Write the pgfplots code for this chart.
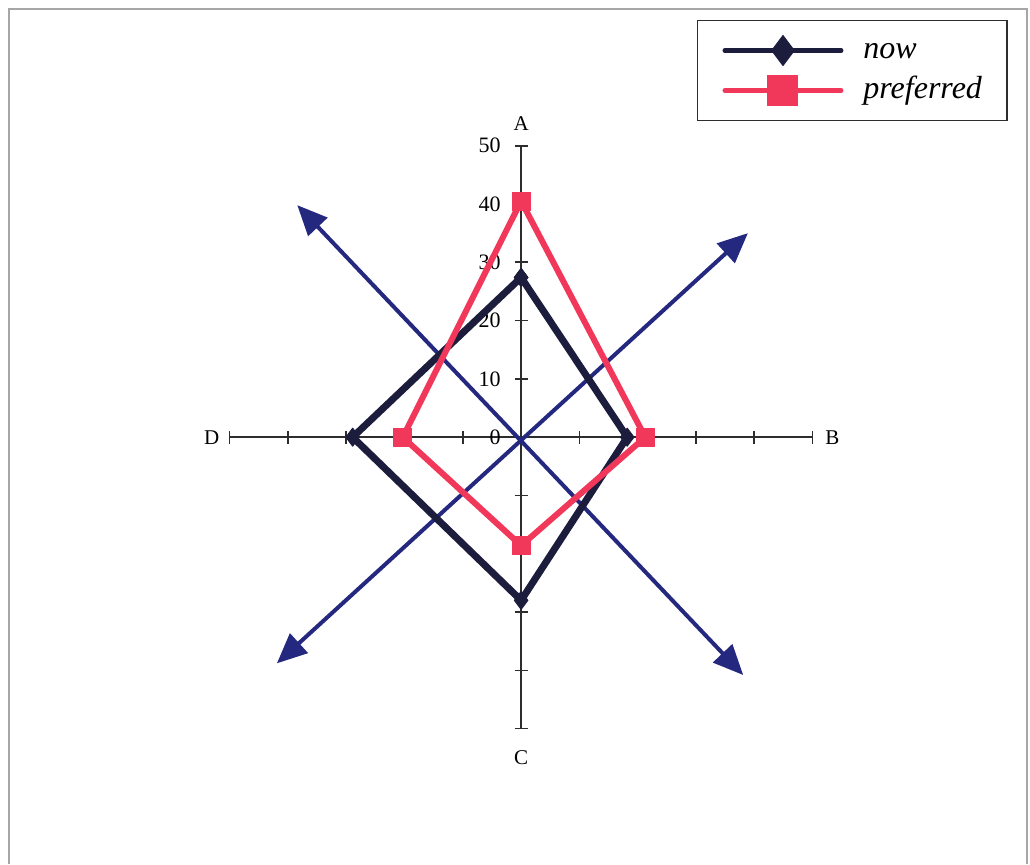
\documentclass[border=0pt]{standalone}
\usepackage{fontspec}
\setmainfont{Liberation Serif}
\usepackage{pgfplots}
\pgfplotsset{compat=1.18}
\usetikzlibrary{arrows.meta}
\definecolor{nowc}{RGB}{28,28,60}
\definecolor{prefc}{RGB}{242,56,90}
\definecolor{arrc}{RGB}{36,40,126}
\definecolor{axc}{RGB}{45,45,45}
\begin{document}
\begin{tikzpicture}
\begin{axis}[
  scale only axis, width=291.5pt, height=291.5pt,
  xmin=-50, xmax=50, ymin=-50, ymax=50,
  axis lines=center,
  axis line style={-, draw=axc, line width=0.8pt},
  clip=false,
  tick align=center,
  major tick length=6.5pt,
  tick style={draw=axc, line width=0.8pt},
  hide obscured x ticks=false,
  hide obscured y ticks=false,
  xtick={-50,-40,-30,-20,-10,10,20,30,40,50},
  xticklabels={},
  ytick={-50,-40,-30,-20,-10,0,10,20,30,40,50},
  yticklabels={,,,,,0,10,20,30,40,50},
  yticklabel style={font=\fontsize{11}{11}\selectfont, anchor=east, xshift=-3.5pt},
  legend style={at={(axis cs:56.8,62.9)}, anchor=center,
    draw=axc, line width=0.8pt,
    font=\fontsize{16}{18}\selectfont\itshape,
    inner xsep=12.5pt, inner ysep=7.5pt,
    row sep=5pt, column sep=10pt,
    nodes={inner sep=0pt, text height=11pt, text depth=3.5pt}},
  legend cell align=left,
  legend image code/.code={\draw[mark repeat=2,mark phase=2,#1,line width=2.5pt,mark size=7.5pt] plot coordinates {(0pt,0pt) (29pt,0pt) (58pt,0pt)};},
]
\path (axis cs:-89.4,-73.2) rectangle (axis cs:87.3,75.0);
\draw[gray!70, line width=1pt] (axis cs:-87.8,-73.2) -- (axis cs:-87.8,73.4) -- (axis cs:86.8,73.4) -- (axis cs:86.8,-73.2);

\addplot[forget plot, arrc, line width=2pt, mark=none,
  {Triangle[length=15pt,width=13pt]}-{Triangle[length=15pt,width=13pt]}]
  coordinates {(-41.9,-38.8) (38.9,35.0)};
\addplot[forget plot, arrc, line width=2pt, mark=none,
  {Triangle[length=15pt,width=13pt]}-{Triangle[length=15pt,width=13pt]}]
  coordinates {(-38.4,39.8) (38.1,-40.8)};

\addplot[nowc, line width=3.5pt, line join=round, line cap=round,
  mark=diamond*, mark size=4.5pt, mark options={solid, fill=nowc, line width=0.5pt}]
  coordinates {(0,27.4) (18.2,0) (0,-28.0) (-28.9,0) (0,27.4)};
\addlegendentry{now}
\addplot[prefc, line width=3pt, line join=round, line cap=round,
  mark=square*, mark size=4.5pt, mark options={solid, fill=prefc, line width=0.5pt}]
  coordinates {(0,40.5) (21.3,0) (0,-18.6) (-20.3,0) (0,40.5)};
\addlegendentry{preferred}

\node[font=\fontsize{10.5}{10.5}\selectfont] at (axis cs:0,53.8) {A};
\node[font=\fontsize{10.5}{10.5}\selectfont] at (axis cs:53.4,0) {B};
\node[font=\fontsize{10.5}{10.5}\selectfont] at (axis cs:0,-55) {C};
\node[font=\fontsize{10.5}{10.5}\selectfont] at (axis cs:-53.1,0) {D};
\end{axis}
\end{tikzpicture}
\end{document}
